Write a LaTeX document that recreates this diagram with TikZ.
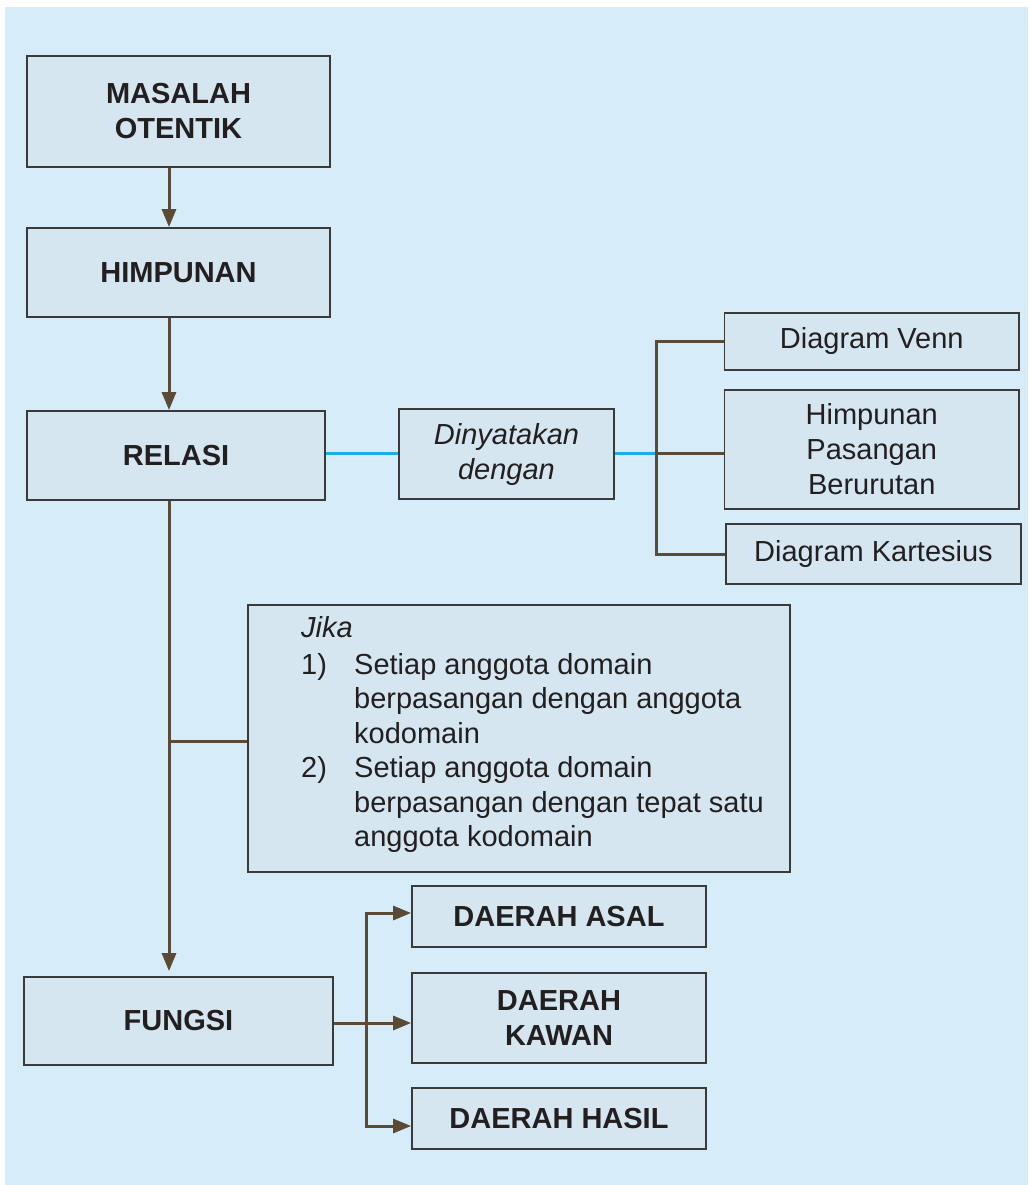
\documentclass[tikz,border=0pt]{standalone}
\usepackage{fontspec}
\setmainfont{Liberation Sans}
\usetikzlibrary{arrows.meta}
\definecolor{bgblue}{HTML}{D6EDF9}
\definecolor{boxfill}{HTML}{D5E6F0}
\definecolor{boxline}{HTML}{3A3A3A}
\definecolor{connc}{HTML}{5A4A36}
\definecolor{bluec}{HTML}{1AADE6}
\definecolor{txtc}{HTML}{231F20}
\begin{document}
\begin{tikzpicture}[x=1pt,y=-1pt,
  box/.style={draw=boxline, line width=1.8pt, fill=boxfill, inner sep=0pt, align=center,
    text=txtc, font=\fontsize{29}{35}\selectfont},
  bbox/.style={box, font=\fontsize{29}{35}\selectfont\bfseries},
  ibox/.style={box, font=\fontsize{29}{35}\selectfont\itshape},
  jtxt/.style={inner sep=0pt, anchor=base west, text=txtc, font=\fontsize{29}{35}\selectfont},
  conn/.style={draw=connc, line width=3pt},
  tip/.tip={Triangle[length=18pt,width=14pt]},
  arr/.style={conn, -tip},
  bluel/.style={draw=bluec, line width=3pt}
]
\useasboundingbox (0,0) rectangle (1028,1185);
\fill[bgblue] (5,7) rectangle (1028,1185);

% boxes
\node[bbox, minimum width=303pt, minimum height=111pt] (mo) at (178.5,111.5) {MASALAH\\OTENTIK};
\node[bbox, minimum width=303pt, minimum height=89pt] (him) at (178.5,272.5) {HIMPUNAN};
\node[bbox, minimum width=298pt, minimum height=89pt] (rel) at (176,455.5) {RELASI};
\node[ibox, minimum width=215pt, minimum height=90pt] (dny) at (506.5,454) {Dinyatakan\\dengan};
\node[box, minimum width=294.5pt, minimum height=57pt] (venn) at (871.75,341.5) {Diagram Venn};
\node[box, minimum width=294.5pt, minimum height=119pt] (hpb) at (871.75,449.5) {Himpunan\\Pasangan\\Berurutan};
\node[box, minimum width=295pt, minimum height=60pt] (kart) at (873.5,554) {Diagram Kartesius};
\node[box, minimum width=542pt, minimum height=267pt] (jika) at (519,738.5) {};
\node[bbox, minimum width=309pt, minimum height=88pt] (fun) at (178.5,1021) {FUNGSI};
\node[bbox, minimum width=294pt, minimum height=61pt] (asal) at (559,916.5) {DAERAH ASAL};
\node[bbox, minimum width=294pt, minimum height=90pt] (kawan) at (559,1018) {DAERAH\\KAWAN};
\node[bbox, minimum width=294pt, minimum height=61pt] (hasil) at (559,1118.5) {DAERAH HASIL};

% text of the condition box
\node[jtxt, font=\fontsize{29}{35}\selectfont\itshape] (jk) at (301,637) {Jika};
\node[jtxt] (n1) at (301,674) {1)};
\node[jtxt] (l1a) at (354,674) {Setiap anggota domain};
\node[jtxt] (l1b) at (354,708.5) {berpasangan dengan anggota};
\node[jtxt] (l1c) at (354,743) {kodomain};
\node[jtxt] (n2) at (301,777.5) {2)};
\node[jtxt] (l2a) at (354,777.5) {Setiap anggota domain};
\node[jtxt] (l2b) at (354,812) {berpasangan dengan tepat satu};
\node[jtxt] (l2c) at (354,846.5) {anggota kodomain};

% helper coordinates
\coordinate (tx) at (169,0);
\coordinate (jb) at (169,741);
\coordinate (br) at (656,0);
\coordinate (my) at (0,453);
\coordinate (fb) at (366,0);
\coordinate (fy) at (0,1023);
\coordinate (a1) at (366,913);
\coordinate (a3) at (366,1126);

% main trunk
\draw[arr] (mo.south -| tx) -- (him.north -| tx);
\draw[arr] (him.south -| tx) -- (rel.north -| tx);
\draw[arr, shorten >=5pt] (rel.south -| tx) -- (fun.north -| tx);
\draw[conn] (jb) -- (jb -| jika.west);

% representations
\draw[bluel] (rel.east |- my) -- (dny.west |- my);
\draw[bluel] (dny.east |- my) -- (br |- my);
\draw[conn, line join=miter] (venn.west) -- (br |- venn.west) -- (br |- kart.west) -- (kart.west);
\draw[conn] (br |- my) -- (hpb.west |- my);

% function parts
\draw[arr] (fun.east |- fy) -- (kawan.west |- fy);
\draw[conn, tip-tip, line join=miter] (a1 -| asal.west) -- (a1) -- (a3) -- (a3 -| hasil.west);
\end{tikzpicture}
\end{document}
